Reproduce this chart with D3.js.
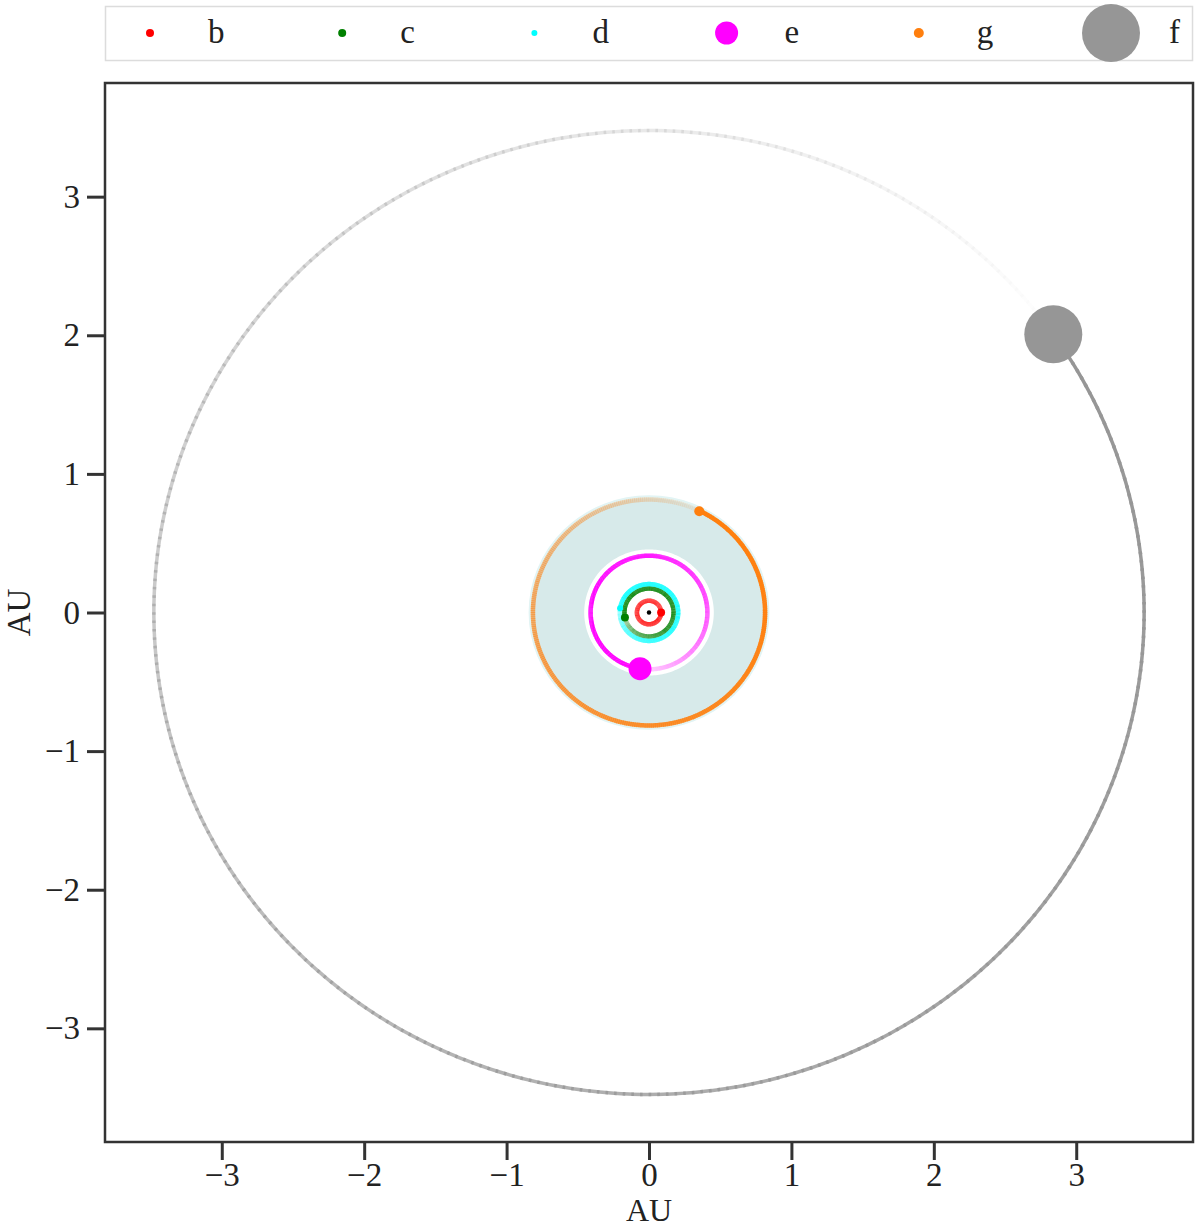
<!DOCTYPE html>
<html>
<head>
<meta charset="utf-8">
<script src="https://cdn.jsdelivr.net/npm/d3@7"></script>
<style>
  html, body { margin: 0; padding: 0; background: #fff; }
  svg { display: block; }
</style>
</head>
<body>
<svg id="chart" width="1200" height="1229"></svg>
<script>
// ---- data ----
const planetNames   = ["b", "c", "d", "e", "g", "f"];
const planetColors  = ["#ff0000", "#008000", "#00ffff", "#ff00ff", "#ff7f0e", "#969696"];
const orbitRadiusAU = [0.085, 0.173, 0.205, 0.41, 0.815, 3.477];
const planetXAU     = [0.085, -0.169, -0.203, -0.063, 0.353, 2.839];
const planetYAU     = [0.0, -0.036, 0.030, -0.405, 0.731, 2.007];
const markerRadius  = [4, 4, 3, 11.5, 5, 29];
// trail fading (how quickly the older part of each orbit trail fades)
const trailMinAlpha = [0.85, 0.25, 0.3, 0.1, 0.05, 0.0];
const trailFadePow  = [1, 4, 4, 2.5, 2, 1.4];
const habitableZoneAU = [0.455, 0.835];
const tickValues = [-3, -2, -1, 0, 1, 2, 3];
const axisDomain = [-3.82, 3.82];

// ---- layout ----
const svg = d3.select("#chart");
const plotL = 105, plotR = 1193, plotT = 83, plotB = 1142;
const x = d3.scaleLinear().domain(axisDomain).range([plotL, plotR]);
const y = d3.scaleLinear().domain(axisDomain).range([plotB, plotT]);
const font = "'Liberation Serif', 'Times New Roman', Times, serif";

// clip
svg.append("clipPath").attr("id", "clip")
  .append("rect").attr("x", plotL).attr("y", plotT).attr("width", plotR - plotL).attr("height", plotB - plotT);
const plot = svg.append("g").attr("clip-path", "url(#clip)");

// habitable zone annulus (ellipse in pixel space due to unequal scales)
const hzPath = d3.path();
function ellipse(p, r, ccw) {
  const rx = x(r) - x(0), ry = y(0) - y(r);
  const N = 240;
  for (let i = 0; i <= N; i++) {
    const a = (ccw ? -1 : 1) * 2 * Math.PI * i / N;
    const px = x(0) + rx * Math.cos(a), py = y(0) - ry * Math.sin(a);
    if (i === 0) p.moveTo(px, py); else p.lineTo(px, py);
  }
  p.closePath();
}
ellipse(hzPath, habitableZoneAU[1], false);
ellipse(hzPath, habitableZoneAU[0], true);
plot.append("path").attr("d", hzPath.toString())
  .attr("fill", "#d7eaea").attr("fill-rule", "evenodd");
plot.append("ellipse").attr("cx", x(0)).attr("cy", y(0))
  .attr("rx", x(habitableZoneAU[1]) - x(0)).attr("ry", y(0) - y(habitableZoneAU[1]))
  .attr("fill", "none").attr("stroke", "#e2f4f4").attr("stroke-width", 3);

// orbit trails: fading with distance behind the planet
planetNames.forEach((name, i) => {
  const r = orbitRadiusAU[i];
  const a0 = Math.atan2(planetYAU[i], planetXAU[i]);
  const N = 360;
  const g = plot.append("g");
  for (let k = N - 1; k >= 0; k--) {
    const t0 = k / N, t1 = (k + 1.3) / N;
    const aa = a0 - 2 * Math.PI * t0, ab = a0 - 2 * Math.PI * Math.min(t1, 1);
    const alpha = 1 - (1 - trailMinAlpha[i]) * Math.pow(t0, trailFadePow[i]);
    g.append("line")
      .attr("x1", x(r * Math.cos(aa))).attr("y1", y(r * Math.sin(aa)))
      .attr("x2", x(r * Math.cos(ab))).attr("y2", y(r * Math.sin(ab)))
      .attr("stroke", planetColors[i])
      .attr("stroke-opacity", alpha)
      .attr("stroke-width", name === "f" ? 3.5 : 4.5);
  }
});

// planets
plot.selectAll("circle.planet").data(planetNames).enter().append("circle")
  .attr("class", "planet")
  .attr("cx", (d, i) => x(planetXAU[i]))
  .attr("cy", (d, i) => y(planetYAU[i]))
  .attr("r", (d, i) => markerRadius[i])
  .attr("fill", (d, i) => planetColors[i]);

// star
plot.append("circle").attr("cx", x(0)).attr("cy", y(0)).attr("r", 2.2).attr("fill", "#000");

// frame
svg.append("rect").attr("x", plotL).attr("y", plotT).attr("width", plotR - plotL).attr("height", plotB - plotT)
  .attr("fill", "none").attr("stroke", "#333").attr("stroke-width", 2.5);

// axes
const xAxis = svg.append("g").attr("transform", `translate(0,${plotB})`)
  .call(d3.axisBottom(x).tickValues(tickValues).tickSize(18).tickPadding(3).tickFormat(d3.format("d")));
const yAxis = svg.append("g").attr("transform", `translate(${plotL},0)`)
  .call(d3.axisLeft(y).tickValues(tickValues).tickSize(18).tickPadding(7).tickFormat(d3.format("d")));
[xAxis, yAxis].forEach(ax => {
  ax.select(".domain").remove();
  ax.selectAll(".tick line").attr("stroke", "#333").attr("stroke-width", 3);
  ax.selectAll(".tick text").attr("fill", "#222").style("font-family", font).style("font-size", "33px");
});

// axis labels
svg.append("text").attr("x", x(0)).attr("y", 1221).attr("text-anchor", "middle")
  .style("font-family", font).style("font-size", "32px").attr("fill", "#222").text("AU");
svg.append("text").attr("transform", `translate(30,${y(0)}) rotate(-90)`).attr("text-anchor", "middle")
  .style("font-family", font).style("font-size", "33px").attr("fill", "#222").text("AU");

// legend
svg.append("rect").attr("x", 105.5).attr("y", 6.5).attr("width", 1087).attr("height", 54)
  .attr("fill", "#fff").attr("stroke", "#dcdcdc").attr("stroke-width", 1.5);
const leg = svg.selectAll("g.leg").data(planetNames).enter().append("g")
  .attr("class", "leg").attr("transform", (d, i) => `translate(${150 + 192.2 * i},33)`);
leg.append("circle").attr("r", (d, i) => markerRadius[i]).attr("fill", (d, i) => planetColors[i]);
leg.append("text").attr("x", 58).attr("y", 10)
  .style("font-family", font).style("font-size", "33px").attr("fill", "#222").text(d => d);
</script>
</body>
</html>
